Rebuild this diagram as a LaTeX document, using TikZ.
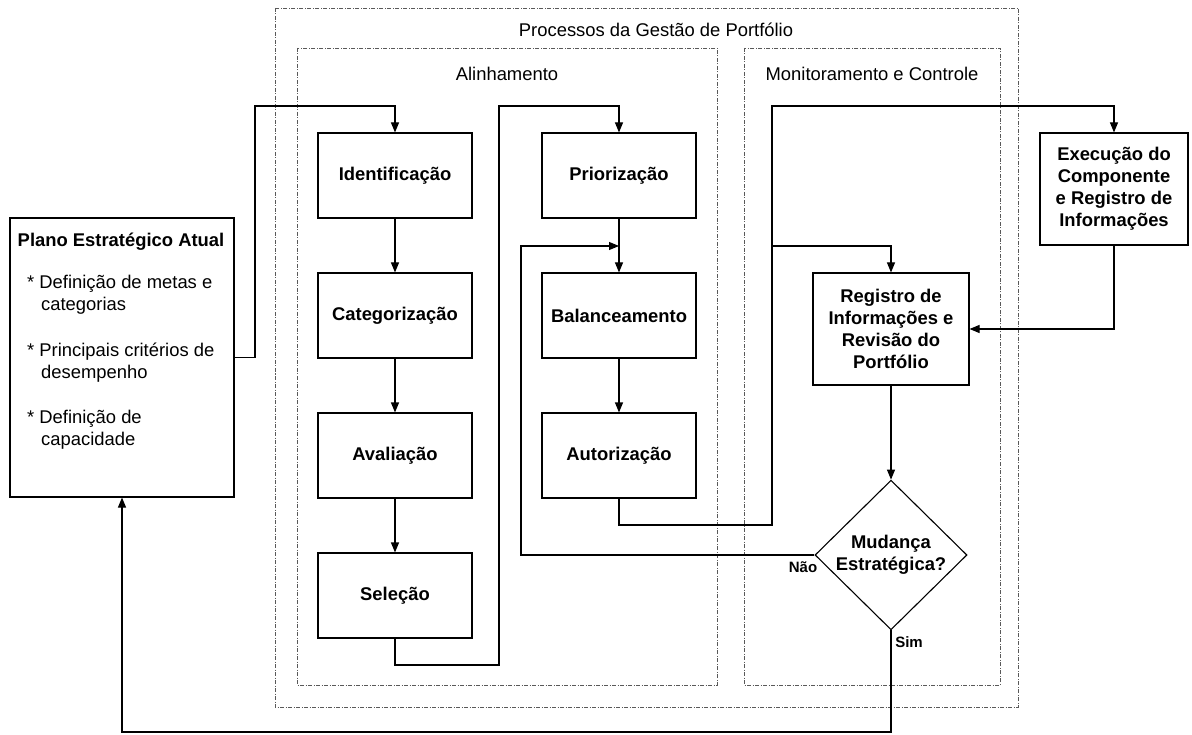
\documentclass[tikz,border=0pt]{standalone}
\usepackage{fontspec}
\setmainfont{Liberation Sans}
\usetikzlibrary{shapes.geometric,arrows.meta}
\newcommand{\figfont}{\fontsize{18.4}{22}\selectfont}
\tikzset{
  box/.style={draw,line width=1.1pt,minimum width=154pt,minimum height=85pt,font=\figfont\bfseries,align=center},
  frame/.style={draw=black!65,line width=0.9pt,dash pattern=on 4pt off 1.5pt on 1pt off 1.5pt},
  flow/.style={line width=1.1pt,-{Triangle[length=10pt,width=8pt]}},
  link/.style={line width=1.1pt}
}
\begin{document}
\begin{tikzpicture}[x=1pt,y=-1pt,font=\figfont]
\useasboundingbox (0,0) rectangle (1192,735);
% frames
\draw[frame] (275,8) rectangle (1018,707);
\draw[frame] (297,48) rectangle (717,685);
\draw[frame] (744,48) rectangle (1000,685);
\node (tproc) at (656,30) {Processos da Gestão de Portfólio};
\node (talin) at (507,74) {Alinhamento};
\node (tmon) at (872,74) {Monitoramento e Controle};
%
\node[draw,line width=1.1pt,minimum width=224pt,minimum height=279pt] (plano) at (122,357.5) {};
\node[font=\figfont\bfseries] (ptit) at (121,242) {Plano Estratégico Atual};
\node[anchor=base west,align=left,inner sep=0pt] (pa) at (27,311) {* Definição de metas e\\\hspace*{14pt}categorias};
\node[anchor=base west,align=left,inner sep=0pt] (pb) at (27,378) {* Principais critérios de\\\hspace*{14pt}desempenho};
\node[anchor=base west,align=left,inner sep=0pt] (pc) at (27,445) {* Definição de\\\hspace*{14pt}capacidade};
%
\node[box] (ident) at (395,175.5) {Identificação};
\node[box] (categ) at (395,315.5) {Categorização};
\node[box] (aval) at (395,455.5) {Avaliação};
\node[box] (selec) at (395,595.5) {Seleção};
\node[box] (prior) at (619,175.5) {Priorização};
\node[box] (balan) at (619,315.5) {Balanceamento};
\node[box] (autor) at (619,455.5) {Autorização};
\node[box,minimum width=156pt,minimum height=112pt] (reg) at (891,329) {Registro de\\Informações e\\Revisão do\\Portfólio};
\node[box,minimum width=148pt,minimum height=112pt] (exec) at (1114,189) {Execução do\\Componente\\e Registro de\\Informações};
\node[box,diamond,inner sep=0pt,aspect=1,minimum width=152pt,minimum height=148pt] (chg) at (891,555) {Mudança\\Estratégica?};
\node[font=\fontsize{15}{18}\selectfont\bfseries] (nao) at (803,567) {Não};
\node[font=\fontsize{15}{18}\selectfont\bfseries] (sim) at (909,642) {Sim};
%
\coordinate (jmon) at (772,246);
\coordinate (jbal) at (619,246);
\draw[flow] (plano.east) -- (255,357.5) -- (255,106) -| (ident.north);
\draw[flow] (ident) -- (categ);
\draw[flow] (categ) -- (aval);
\draw[flow] (aval) -- (selec);
\draw[flow] (selec.south) -- (395,665) -- (499,665) -- (499,106) -| (prior.north);
\draw[flow] (prior) -- (balan);
\draw[flow] (balan) -- (autor);
\draw[flow] (autor.south) -- (619,525) -- (772,525) -- (772,106) -| (exec.north);
\draw[flow] (jmon) -| (reg.north);
\draw[flow] (exec.south) |- (reg.east);
\draw[flow] (reg) -- (chg);
\draw[flow] (chg.west) -- (521,555) -- (521,246) -- (jbal);
\draw[flow] (chg.south) -- (891,732) -| (plano.south);
\end{tikzpicture}
\end{document}
